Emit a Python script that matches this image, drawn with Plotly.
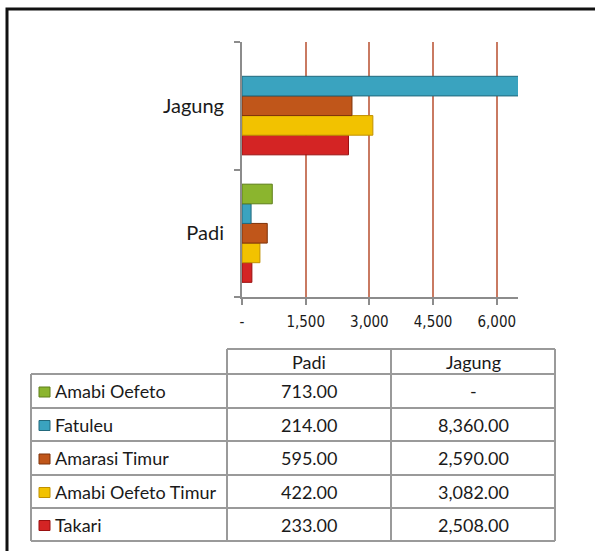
import plotly.graph_objects as go

categories = ["Padi", "Jagung"]
series_names = ["Amabi Oefeto", "Fatuleu", "Amarasi Timur", "Amabi Oefeto Timur", "Takari"]
padi_values = [713, 214, 595, 422, 233]
jagung_values = [0, 8360, 2590, 3082, 2508]
padi_text = ["713.00", "214.00", "595.00", "422.00", "233.00"]
jagung_text = ["-", "8,360.00", "2,590.00", "3,082.00", "2,508.00"]
tick_values = [0, 1500, 3000, 4500, 6000]
tick_labels = ["-", "1,500", "3,000", "4,500", "6,000"]

fill_colors = ["#8BB52E", "#3AA3BF", "#C0561A", "#F2C200", "#D42424"]
edge_colors = ["#5E7F1A", "#22697C", "#7E330A", "#C09000", "#9A1010"]

# plot area in pixels
PL, PR, PT, PB = 242, 518, 42, 297
W, H = 595, 551


def px(x):
    return (x - PL) / (PR - PL)


def py(y):
    return (PB - y) / (PB - PT)


fig = go.Figure()
# plotly stacks the first horizontal trace at the bottom, so add in reverse
for i in reversed(range(len(series_names))):
    vals = [padi_values[i], jagung_values[i]]
    fig.add_trace(go.Bar(
        y=categories,
        x=vals,
        name=series_names[i],
        orientation="h",
        marker=dict(color=fill_colors[i],
                    line=dict(color=edge_colors[i], width=[1 if v > 0 else 0 for v in vals])),
        showlegend=False,
        hoverinfo="x+name",
    ))

shapes = []
annotations = []

# outer frame
shapes.append(dict(type="rect", xref="paper", yref="paper",
                   x0=px(7), x1=px(W + 20), y0=py(9), y1=py(H + 20),
                   line=dict(color="#111111", width=3), fillcolor="rgba(0,0,0,0)", layer="above"))

# data table geometry
TL, C1, C2, TR = 31, 227, 391, 555
HT = 349
row_lines = [374, 408, 441, 475, 508, 541]
grid_col = "#9A9A9A"


def line(x0, y0, x1, y1):
    shapes.append(dict(type="line", xref="paper", yref="paper",
                       x0=px(x0), x1=px(x1), y0=py(y0), y1=py(y1),
                       line=dict(color=grid_col, width=2)))


# header box
line(C1, HT, TR, HT)
line(C1, HT, C1, row_lines[0])
line(C2, HT, C2, row_lines[0])
line(TR, HT, TR, row_lines[0])
# body
for yl in row_lines:
    line(TL, yl, TR, yl)
for xl in [TL, C1, C2, TR]:
    line(xl, row_lines[0], xl, row_lines[-1])

font_main = "Lato, 'Noto Sans', sans-serif"
TS = 18

for j, cat in enumerate(categories):
    cx = (C1 + C2) / 2 if j == 0 else (C2 + TR) / 2
    annotations.append(dict(xref="paper", yref="paper", x=px(cx), y=py((HT + row_lines[0]) / 2),
                            text=cat, showarrow=False, xanchor="center", yanchor="middle",
                            font=dict(family=font_main, size=TS, color="#1a1a1a")))

for i, name in enumerate(series_names):
    y0, y1 = row_lines[i], row_lines[i + 1]
    yc = (y0 + y1) / 2
    shapes.append(dict(type="rect", xref="paper", yref="paper",
                       x0=px(39), x1=px(50), y0=py(yc - 4), y1=py(yc + 6),
                       fillcolor=fill_colors[i], line=dict(color=edge_colors[i], width=1)))
    annotations.append(dict(xref="paper", yref="paper", x=px(53), y=py(yc),
                            text=name, showarrow=False, xanchor="left", yanchor="middle",
                            font=dict(family=font_main, size=TS, color="#1a1a1a")))
    annotations.append(dict(xref="paper", yref="paper", x=px((C1 + C2) / 2), y=py(yc),
                            text=padi_text[i], showarrow=False, xanchor="center", yanchor="middle",
                            font=dict(family=font_main, size=TS, color="#1a1a1a")))
    annotations.append(dict(xref="paper", yref="paper", x=px((C2 + TR) / 2), y=py(yc),
                            text=jagung_text[i], showarrow=False, xanchor="center", yanchor="middle",
                            font=dict(family=font_main, size=TS, color="#1a1a1a")))

fig.update_layout(
    width=W, height=H,
    margin=dict(l=PL, r=W - PR, t=PT, b=H - PB, pad=0),
    paper_bgcolor="white", plot_bgcolor="white",
    barmode="group", bargap=0.23, bargroupgap=0,
    shapes=shapes, annotations=annotations,
    xaxis=dict(range=[0, 6500], tickvals=tick_values, ticktext=tick_labels,
               showgrid=True, gridcolor="#C97A62", gridwidth=2, zeroline=False,
               showline=True, linecolor="#8C8C8C", linewidth=2,
               ticks="outside", ticklen=6, tickcolor="#8C8C8C", tickwidth=2,
               ticklabelstandoff=4,
               tickfont=dict(family="'DejaVu Sans Condensed', 'Liberation Sans Narrow', sans-serif",
                             size=15, color="#1a1a1a")),
    yaxis=dict(type="category", categoryorder="array", categoryarray=categories,
               range=[-0.5, 1.5], tickson="boundaries", showgrid=False, zeroline=False,
               showline=True, linecolor="#8C8C8C", linewidth=2,
               ticks="outside", ticklen=6, tickcolor="#8C8C8C", tickwidth=2,
               ticklabelstandoff=12,
               tickfont=dict(family=font_main, size=20, color="#1a1a1a")),
)

fig.write_html("out.html", config={"displayModeBar": False},
               post_script="document.body.style.margin='0';")
